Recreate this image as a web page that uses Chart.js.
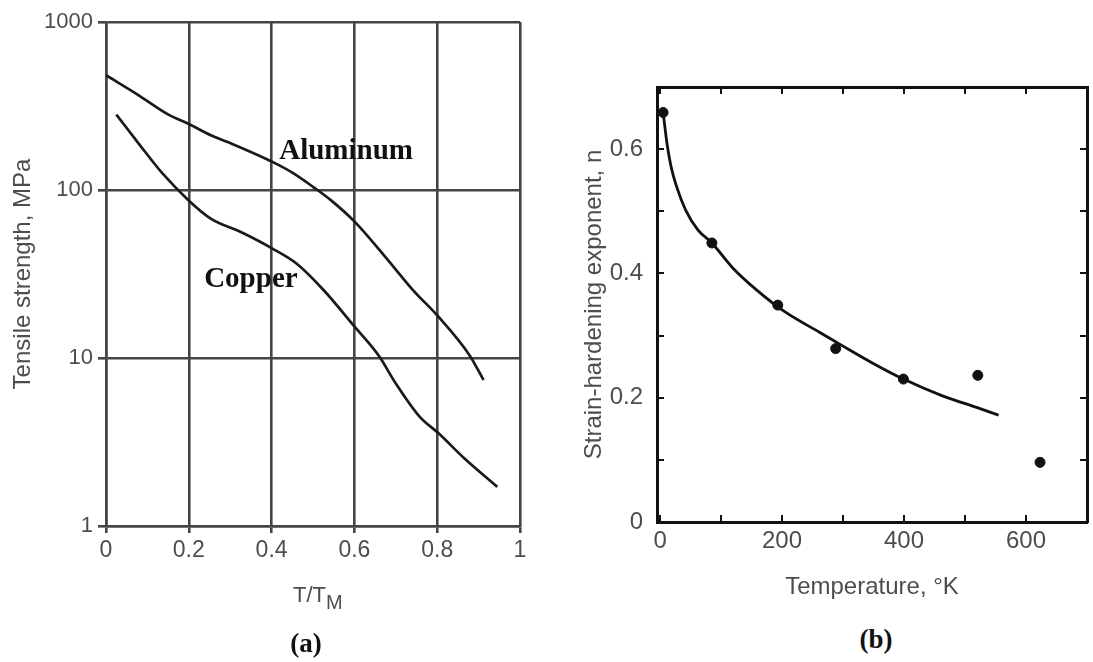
<!DOCTYPE html>
<html>
<head>
<meta charset="utf-8">
<script src="https://cdn.jsdelivr.net/npm/chart.js@4.4.1/dist/chart.umd.min.js"></script>
<style>
  body { margin: 0; background: #fff; width: 1093px; height: 662px; position: relative; overflow: hidden; }
  .box { position: absolute; }
  .cap { position: absolute; font-family: "Liberation Serif", serif; font-weight: bold; font-size: 27px; line-height: 30px; color: #111; width: 100px; text-align: center; }
  .xt { position: absolute; font-family: "Liberation Sans", Arial, sans-serif; font-size: 22px; line-height: 25px; color: #4d4d4d; white-space: nowrap; }
  .xt sub { font-size: 20px; vertical-align: -7px; line-height: 0; }
</style>
</head>
<body>
<div class="box" style="left:0;top:0;width:546px;height:620px;"><canvas id="chartA"></canvas></div>
<div class="box" style="left:550px;top:60px;width:543px;height:560px;"><canvas id="chartB"></canvas></div>
<div class="xt" style="left:293px;top:582px;">T/T<sub>M</sub></div>
<div class="cap" style="left:256px;top:628px;">(a)</div>
<div class="cap" style="left:826px;top:624px;">(b)</div>
<script>
// (a) tensile strength vs homologous temperature
var alT = [0, 0.079, 0.153, 0.199, 0.253, 0.294, 0.402, 0.452, 0.501, 0.543, 0.601, 0.675, 0.742, 0.804, 0.878, 0.912];
var alS = [482, 366, 279, 248, 212, 193, 147, 126, 104, 87, 64.6, 39.9, 25.3, 17.5, 10.4, 7.4];
var cuT = [0.025, 0.079, 0.137, 0.199, 0.253, 0.327, 0.402, 0.46, 0.526, 0.601, 0.659, 0.70, 0.758, 0.804, 0.866, 0.945];
var cuS = [281, 189, 125, 87, 67.6, 56, 44.8, 36.5, 25.3, 15.3, 10.3, 7.05, 4.46, 3.55, 2.52, 1.71];
var yTicksA = [1, 10, 100, 1000];
var curveNames = ['Aluminum', 'Copper'];
var nameT = [0.58, 0.35];
var nameS = [152, 26.4];

// (b) strain-hardening exponent vs temperature
var dotT = [5, 85, 193, 288, 399, 521, 623];
var dotN = [0.659, 0.449, 0.349, 0.279, 0.230, 0.236, 0.096];
var fitT = [5, 8, 12, 18, 27, 42, 62, 85, 120, 160, 205, 262, 300, 348, 399, 463, 520, 555];
var fitN = [0.659, 0.635, 0.605, 0.572, 0.540, 0.502, 0.470, 0.449, 0.408, 0.372, 0.338, 0.305, 0.283, 0.256, 0.230, 0.203, 0.184, 0.172];
var xTicksB = [0, 100, 200, 300, 400, 500, 600, 700];

var sans = '"Liberation Sans", Arial, sans-serif';
var gridCol = '#454545';
var textCol = '#4d4d4d';

function pts(xs, ys) {
  var out = [];
  for (var i = 0; i < xs.length; i++) out.push({ x: xs[i], y: ys[i] });
  return out;
}

// no extra room for overhanging tick labels, the plot box is placed by hand
function noPad(s) {
  s.paddingLeft = 0; s.paddingRight = 0; s.paddingTop = 0; s.paddingBottom = 0;
}

var curveNamePlugin = {
  id: 'curveNames',
  afterDatasetsDraw: function (chart) {
    var ctx = chart.ctx;
    ctx.save();
    ctx.font = 'bold 29px "Liberation Serif", serif';
    ctx.fillStyle = '#111';
    ctx.textAlign = 'center';
    ctx.textBaseline = 'alphabetic';
    for (var i = 0; i < curveNames.length; i++) {
      ctx.fillText(curveNames[i], chart.scales.x.getPixelForValue(nameT[i]), chart.scales.y.getPixelForValue(nameS[i]));
    }
    ctx.restore();
  }
};

new Chart(document.getElementById('chartA'), {
  type: 'line',
  data: {
    datasets: [
      { label: 'Aluminum', data: pts(alT, alS), borderColor: '#1a1a1a', borderWidth: 2.7, pointRadius: 0, tension: 0.4, cubicInterpolationMode: 'monotone' },
      { label: 'Copper', data: pts(cuT, cuS), borderColor: '#1a1a1a', borderWidth: 2.7, pointRadius: 0, tension: 0.4, cubicInterpolationMode: 'monotone' }
    ]
  },
  options: {
    responsive: true,
    maintainAspectRatio: false,
    animation: false,
    layout: { padding: { left: 0, right: 26, top: 22, bottom: 0 } },
    plugins: { legend: { display: false }, tooltip: { enabled: false } },
    scales: {
      x: {
        type: 'linear', min: 0, max: 1,
        ticks: { stepSize: 0.2, color: textCol, font: { family: sans, size: 23 }, padding: 4, maxRotation: 0,
          callback: function (v) { return String(Math.round(v * 10) / 10); } },
        grid: { color: gridCol, lineWidth: 2.6, tickLength: 7 },
        border: { color: gridCol, width: 2.6 },
        afterFit: function (s) { s.height = 94; noPad(s); }
      },
      y: {
        type: 'logarithmic', min: 1, max: 1000,
        afterBuildTicks: function (s) { s.ticks = yTicksA.map(function (v) { return { value: v }; }); },
        ticks: { color: textCol, font: { family: sans, size: 22 }, padding: 5, callback: function (v) { return String(v); } },
        grid: { color: gridCol, lineWidth: 2.6, tickLength: 8 },
        border: { color: gridCol, width: 2.6 },
        title: { display: true, text: 'Tensile strength, MPa', color: textCol, font: { family: sans, size: 24 }, padding: { top: 9, bottom: 0 } },
        afterFit: function (s) { s.width = 106; noPad(s); }
      }
    }
  },
  plugins: [curveNamePlugin]
});

var inTick = { drawOnChartArea: false, color: '#111', lineWidth: 2, tickLength: -7 };
var frame = { color: '#111', width: 3 };
function fixedTicksB(s) { s.ticks = xTicksB.map(function (v) { return { value: v }; }); }

new Chart(document.getElementById('chartB'), {
  type: 'scatter',
  data: {
    datasets: [
      { label: 'data', data: pts(dotT, dotN), backgroundColor: '#111', borderColor: '#111', pointRadius: 5, showLine: false },
      { label: 'fit', data: pts(fitT, fitN), borderColor: '#111', borderWidth: 2.8, pointRadius: 0, showLine: true, tension: 0.4, cubicInterpolationMode: 'monotone' }
    ]
  },
  options: {
    responsive: true,
    maintainAspectRatio: false,
    animation: false,
    layout: { padding: { left: 0, right: 3, top: 27, bottom: 0 } },
    plugins: { legend: { display: false }, tooltip: { enabled: false } },
    scales: {
      x: {
        type: 'linear', position: 'bottom', min: -5, max: 700,
        afterBuildTicks: fixedTicksB,
        ticks: { color: textCol, font: { family: sans, size: 24 }, padding: 12, maxRotation: 0, autoSkip: false,
          callback: function (v) { return (Math.round(v) % 200 === 0) ? String(Math.round(v)) : ''; } },
        grid: inTick,
        border: frame,
        title: { display: true, text: 'Temperature, \u00b0K', color: textCol, font: { family: sans, size: 24 }, padding: { top: 0, bottom: 18 } },
        afterFit: function (s) { s.height = 98; noPad(s); }
      },
      x2: {
        type: 'linear', position: 'top', min: -5, max: 700,
        afterBuildTicks: fixedTicksB,
        ticks: { display: false },
        grid: inTick,
        border: frame,
        afterFit: function (s) { s.height = 0; noPad(s); }
      },
      y: {
        type: 'linear', position: 'left', min: 0, max: 0.7,
        ticks: { stepSize: 0.1, color: textCol, font: { family: sans, size: 24 }, padding: 21, autoSkip: false,
          callback: function (v) { var r = Math.round(v * 10); return (r % 2 === 0 && r < 7) ? String(r / 10) : ''; } },
        grid: inTick,
        border: frame,
        title: { display: true, text: 'Strain-hardening exponent, n', color: textCol, font: { family: sans, size: 24 }, padding: { top: 30, bottom: 0 } },
        afterFit: function (s) { s.width = 107; noPad(s); }
      },
      y2: {
        type: 'linear', position: 'right', min: 0, max: 0.7,
        ticks: { display: false, stepSize: 0.1 },
        grid: inTick,
        border: frame,
        afterFit: function (s) { s.width = 0; noPad(s); }
      }
    }
  }
});
</script>
</body>
</html>
